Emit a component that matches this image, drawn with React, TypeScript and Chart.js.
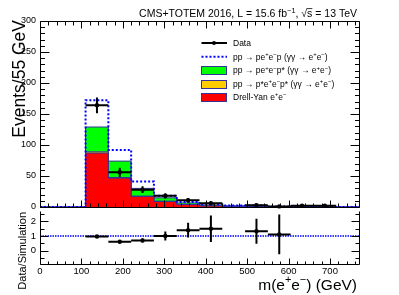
import React, { useEffect, useRef } from "react";
import { Chart, registerables } from "chart.js";
Chart.register(...registerables);

// ---------------- data ----------------
const binLow = [0, 55, 110, 165, 220, 275, 330, 385, 440, 495, 550, 605, 660, 715];
const binWidth = 55;
const drellYan = [0, 0, 87, 46.6, 17, 9, 3.8, 1.8, 1.0, 0.9, 0.4, 0, 0, 0];
const pStarPStar = [0, 0, 2, 1, 0.6, 0.4, 0.2, 0.2, 0.1, 0.1, 0.05, 0, 0, 0];
const pPStar = [0, 0, 40, 26.4, 12.4, 5.4, 2.6, 1.2, 0.8, 0.8, 0.3, 0, 0, 0];
const elastic = [0, 0, 43, 18, 11, 3.2, 1.3, 0.8, 0.5, 0.45, 0.15, 0, 0, 0];
const dataCounts = [0, 0, 164, 56, 28, 18, 11, 6, 0, 3, 1, 2, 2, 0];
const ratioVals: (number | null)[] = [null, null, 0.97, 0.61, 0.7, 1.0, 1.4, 1.5, null, 1.33, 1.11, null, null, null];
const ratioErrs: (number | null)[] = [null, null, 0.06, 0.09, 0.13, 0.3, 0.5, 0.9, null, 0.85, 1.35, null, null, null];

const xTickValues = [0, 100, 200, 300, 400, 500, 600, 700];
const xTickLabels = ["0", "100", "200", "300", "400", "500", "600", "700"];
const yTickValues = [0, 50, 100, 150, 200, 250, 300];
const yTickLabels = ["0", "50", "100", "150", "200", "250", "300"];
const rTickValues = [0, 1, 2];
const rTickLabels = ["0", "1", "2"];

type Seg = { t: string; sup?: boolean; over?: boolean };
const titleSegs: Seg[] = [
  { t: "CMS+TOTEM 2016, L = 15.6 fb" },
  { t: "−1", sup: true },
  { t: ", √" },
  { t: "s", over: true },
  { t: " = 13 TeV" },
];
const legendLabels: Seg[][] = [
  [{ t: "Data" }],
  [{ t: "pp → pe" }, { t: "+", sup: true }, { t: "e" }, { t: "−", sup: true }, { t: "p (γγ → e" }, { t: "+", sup: true }, { t: "e" }, { t: "−", sup: true }, { t: ")" }],
  [{ t: "pp → pe" }, { t: "+", sup: true }, { t: "e" }, { t: "−", sup: true }, { t: "p* (γγ → e" }, { t: "+", sup: true }, { t: "e" }, { t: "−", sup: true }, { t: ")" }],
  [{ t: "pp → p*e" }, { t: "+", sup: true }, { t: "e" }, { t: "−", sup: true }, { t: "p* (γγ → e" }, { t: "+", sup: true }, { t: "e" }, { t: "−", sup: true }, { t: ")" }],
  [{ t: "Drell-Yan e" }, { t: "+", sup: true }, { t: "e" }, { t: "−", sup: true }],
];
const xTitleSegs: Seg[] = [{ t: "m(e" }, { t: "+", sup: true }, { t: "e" }, { t: "−", sup: true }, { t: ") (GeV)" }];
const yTitle = "Events/55 GeV";
const rTitle = "Data/Simulation";

const RED = "#ff0000";
const GREEN = "#00ff00";
const ORANGE = "#ffcc00";
const BLUE = "#0000ff";
const OUTLINE = "#333399";
const FONT = "'Liberation Sans', Arial, Helvetica, sans-serif";

// ---------------- helpers ----------------
const xMax = binLow[binLow.length - 1] + binWidth;
function histPoints(vals: number[]) {
  const pts = binLow.map((x, i) => ({ x, y: vals[i] }));
  pts.push({ x: xMax, y: vals[vals.length - 1] });
  return pts;
}
const add = (a: number[], b: number[]) => a.map((v, i) => v + b[i]);
const cumDY = drellYan;
const cumPP = add(cumDY, pStarPStar);
const cumPS = add(cumPP, pPStar);
const cumTot = add(cumPS, elastic);

function richWidth(ctx: CanvasRenderingContext2D, segs: Seg[], size: number) {
  let w = 0;
  for (const s of segs) {
    ctx.font = `${s.sup ? size * 0.7 : size}px ${FONT}`;
    w += ctx.measureText(s.t).width;
  }
  return w;
}
function drawRich(ctx: CanvasRenderingContext2D, segs: Seg[], x: number, y: number, size: number, align: "left" | "right") {
  ctx.save();
  ctx.textAlign = "left";
  ctx.textBaseline = "alphabetic";
  ctx.fillStyle = "#000";
  let cx = align === "right" ? x - richWidth(ctx, segs, size) : x;
  for (const s of segs) {
    const fs = s.sup ? size * 0.7 : size;
    ctx.font = `${fs}px ${FONT}`;
    const w = ctx.measureText(s.t).width;
    ctx.fillText(s.t, cx, s.sup ? y - size * 0.42 : y);
    if (s.over) {
      ctx.strokeStyle = "#000";
      ctx.lineWidth = 0.8;
      ctx.beginPath();
      ctx.moveTo(cx - 0.5, y - size * 0.8);
      ctx.lineTo(cx + w, y - size * 0.8);
      ctx.stroke();
    }
    cx += w;
  }
  ctx.restore();
}

function drawFrame(chart: any, yMinorStep: number, yMajorStep: number, opt: { top: boolean; xMaj: number; xMin: number; yMaj: number; yMin: number }) {
  const { ctx, chartArea: a } = chart;
  const xs = chart.scales.x, ys = chart.scales.y;
  const px = (v: number) => Math.round(v) + 0.5;
  const L = px(a.left), R = px(a.right), T = px(a.top), B = px(a.bottom);
  ctx.save();
  ctx.strokeStyle = "#000";
  ctx.lineWidth = 1;
  ctx.setLineDash([]);
  ctx.beginPath();
  ctx.moveTo(L, T); ctx.lineTo(L, B); ctx.lineTo(R, B); ctx.lineTo(R, T);
  if (opt.top) ctx.lineTo(L, T);
  for (let v = 0; v < xMax; v += 20) {
    const X = px(xs.getPixelForValue(v));
    const len = v % 100 === 0 ? opt.xMaj : opt.xMin;
    ctx.moveTo(X, B); ctx.lineTo(X, B - len);
    if (opt.top) { ctx.moveTo(X, T); ctx.lineTo(X, T + len); }
  }
  const start = Math.ceil(ys.min / yMinorStep - 1e-9) * yMinorStep;
  for (let v = start; v <= ys.max + 1e-9; v += yMinorStep) {
    const Y = px(ys.getPixelForValue(v));
    const r = v / yMajorStep;
    const len = Math.abs(r - Math.round(r)) < 1e-6 ? opt.yMaj : opt.yMin;
    ctx.moveTo(L, Y); ctx.lineTo(L + len, Y);
    ctx.moveTo(R, Y); ctx.lineTo(R - len, Y);
  }
  ctx.stroke();
  ctx.restore();
}

function drawErrorBars(chart: any, ys: (number | null)[], errs: (number | null)[]) {
  const { ctx } = chart;
  const xs = chart.scales.x, yScale = chart.scales.y;
  ctx.save();
  ctx.strokeStyle = "#000";
  ctx.lineWidth = 2;
  ctx.setLineDash([]);
  ctx.beginPath();
  binLow.forEach((lo, i) => {
    const v = ys[i];
    const e = errs[i];
    if (v === null || e === null) return;
    const yc = yScale.getPixelForValue(v);
    ctx.moveTo(xs.getPixelForValue(lo), yc);
    ctx.lineTo(xs.getPixelForValue(lo + binWidth), yc);
    const xc = xs.getPixelForValue(lo + binWidth / 2);
    ctx.moveTo(xc, yScale.getPixelForValue(v + e));
    ctx.lineTo(xc, yScale.getPixelForValue(v - e));
  });
  ctx.stroke();
  ctx.restore();
}

const dataVals = dataCounts.map((c) => (c > 0 ? c : null));
const dataErrs = dataCounts.map((c) => (c > 0 ? Math.sqrt(c) : null));

const topPlugin = {
  id: "topDecor",
  afterDatasetsDraw(chart: any) {
    drawErrorBars(chart, dataVals, dataErrs);
  },
  afterDraw(chart: any) {
    const { ctx } = chart;
    drawFrame(chart, 10, 50, { top: true, xMaj: 7, xMin: 4, yMaj: 9, yMin: 4.5 });
    const ys = chart.scales.y;
    ctx.save();
    ctx.fillStyle = "#000";
    ctx.font = `9px ${FONT}`;
    ctx.textAlign = "right";
    ctx.textBaseline = "middle";
    yTickValues.forEach((v, i) => ctx.fillText(yTickLabels[i], 36, ys.getPixelForValue(v)));
    // y title
    ctx.translate(25, 20);
    ctx.rotate(-Math.PI / 2);
    ctx.font = `17.5px ${FONT}`;
    ctx.textBaseline = "alphabetic";
    ctx.textAlign = "right";
    ctx.fillText(yTitle, 0, 0);
    ctx.restore();
    // title
    drawRich(ctx, titleSegs, 357, 17, 10.5, "right");
    // legend
    const rows = [43, 56.7, 70.2, 83.5, 96.8];
    const bx = 201.5, bw = 25, bh = 8;
    ctx.save();
    // data entry
    ctx.strokeStyle = "#000"; ctx.lineWidth = 2;
    ctx.beginPath(); ctx.moveTo(bx, rows[0]); ctx.lineTo(bx + bw + 0.5, rows[0]); ctx.stroke();
    ctx.fillStyle = "#000"; ctx.beginPath(); ctx.arc(bx + bw / 2, rows[0], 2, 0, Math.PI * 2); ctx.fill();
    // elastic
    ctx.strokeStyle = BLUE; ctx.lineWidth = 2; ctx.setLineDash([2, 2]);
    ctx.beginPath(); ctx.moveTo(bx, rows[1]); ctx.lineTo(bx + bw + 0.5, rows[1]); ctx.stroke();
    ctx.setLineDash([]);
    const fills = [GREEN, ORANGE, RED];
    fills.forEach((c, k) => {
      const yc = rows[k + 2];
      ctx.fillStyle = c;
      ctx.fillRect(bx, Math.round(yc - bh / 2) + 0.5, bw, bh);
      ctx.strokeStyle = OUTLINE; ctx.lineWidth = 1;
      ctx.strokeRect(bx, Math.round(yc - bh / 2) + 0.5, bw, bh);
    });
    ctx.restore();
    legendLabels.forEach((segs, k) => drawRich(ctx, segs, 233, rows[k] + 3.2, 8.5, "left"));
  },
};

const ratioPlugin = {
  id: "ratioDecor",
  afterDatasetsDraw(chart: any) {
    drawErrorBars(chart, ratioVals, ratioErrs);
  },
  afterDraw(chart: any) {
    const { ctx } = chart;
    drawFrame(chart, 0.5, 1, { top: false, xMaj: 6, xMin: 3, yMaj: 8, yMin: 4 });
    const xs = chart.scales.x, ys = chart.scales.y;
    ctx.save();
    ctx.fillStyle = "#000";
    ctx.font = `9.5px ${FONT}`;
    ctx.textAlign = "right";
    ctx.textBaseline = "middle";
    rTickValues.forEach((v, i) => ctx.fillText(rTickLabels[i], 36, ys.getPixelForValue(v)));
    ctx.textAlign = "center";
    ctx.textBaseline = "top";
    xTickValues.forEach((v, i) => ctx.fillText(xTickLabels[i], xs.getPixelForValue(v), 266.5));
    ctx.translate(25.5, 212);
    ctx.rotate(-Math.PI / 2);
    ctx.font = `11px ${FONT}`;
    ctx.textBaseline = "alphabetic";
    ctx.textAlign = "right";
    ctx.fillText(rTitle, 0, 0);
    ctx.restore();
    drawRich(ctx, xTitleSegs, 357, 290, 15.5, "right");
  },
};

export default function App() {
  const topRef = useRef<HTMLCanvasElement>(null);
  const ratioRef = useRef<HTMLCanvasElement>(null);

  useEffect(() => {
    const histDs = (vals: number[], color: string, outline: string, fill: boolean, extra: any = {}) => ({
      type: "line",
      data: histPoints(vals),
      stepped: "before",
      fill: fill ? "origin" : false,
      backgroundColor: color,
      borderColor: outline,
      borderWidth: 1,
      pointRadius: 0,
      tension: 0,
      clip: false,
      ...extra,
    });
    const top = new Chart(topRef.current!, {
      type: "line",
      data: {
        datasets: [
          {
            type: "scatter",
            data: binLow.map((lo, i) => ({ x: lo + binWidth / 2, y: dataVals[i] })).filter((p) => p.y !== null),
            pointRadius: 2.2,
            pointBackgroundColor: "#000",
            pointBorderWidth: 0,
            showLine: false,
            clip: false,
          } as any,
          histDs(cumTot, "transparent", BLUE, false, { borderWidth: 2, borderDash: [2, 2] }),
          histDs(cumDY, RED, OUTLINE, true),
          histDs(cumPP, ORANGE, OUTLINE, true),
          histDs(cumPS, GREEN, OUTLINE, true),
        ],
      },
      options: {
        animation: false,
        responsive: false,
        maintainAspectRatio: false,
        devicePixelRatio: 1,
        events: [],
        layout: { padding: { left: 40, right: 40, top: 21, bottom: 88 } },
        scales: {
          x: { type: "linear", min: 0, max: xMax, display: false },
          y: { type: "linear", min: 0, max: 300, display: false },
        },
        plugins: { legend: { display: false }, tooltip: { enabled: false } },
      },
      plugins: [topPlugin],
    } as any);

    const ratio = new Chart(ratioRef.current!, {
      type: "line",
      data: {
        datasets: [
          {
            type: "scatter",
            data: binLow.map((lo, i) => ({ x: lo + binWidth / 2, y: ratioVals[i] })).filter((p) => p.y !== null),
            pointRadius: 2.2,
            pointBackgroundColor: "#000",
            pointBorderWidth: 0,
            showLine: false,
            clip: false,
          } as any,
          {
            type: "line",
            data: [{ x: 0, y: 1 }, { x: xMax, y: 1 }],
            borderColor: BLUE,
            borderWidth: 1.5,
            borderDash: [1.5, 1],
            pointRadius: 0,
            fill: false,
          },
        ],
      },
      options: {
        animation: false,
        responsive: false,
        maintainAspectRatio: false,
        devicePixelRatio: 1,
        events: [],
        layout: { padding: { left: 40, right: 40, top: 211, bottom: 31 } },
        scales: {
          x: { type: "linear", min: 0, max: xMax, display: false },
          y: { type: "linear", min: -0.9, max: 2.7, display: false },
        },
        plugins: { legend: { display: false }, tooltip: { enabled: false } },
      },
      plugins: [ratioPlugin],
    } as any);

    return () => {
      top.destroy();
      ratio.destroy();
    };
  }, []);

  return (
    <div style={{ position: "fixed", left: 0, top: 0, width: 399, height: 295, background: "#fff" }}>
      <canvas ref={topRef} width={399} height={295} style={{ position: "absolute", left: 0, top: 0, width: 399, height: 295 }} />
      <canvas ref={ratioRef} width={399} height={295} style={{ position: "absolute", left: 0, top: 0, width: 399, height: 295 }} />
    </div>
  );
}
